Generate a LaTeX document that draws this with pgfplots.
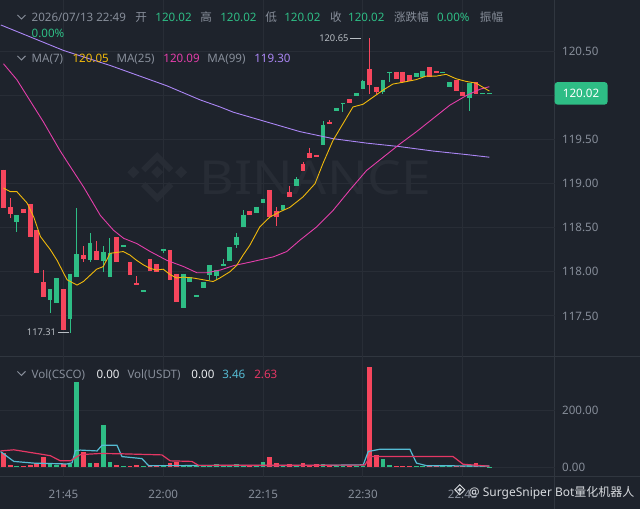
\documentclass[border=0pt]{standalone}
\usepackage{fontspec}
\setmainfont{Noto Sans}
\newfontfamily\cjk{Noto Sans CJK SC}
\usepackage{pgfplots}
\pgfplotsset{compat=1.18}
\usepackage{pgfplotstable}
\definecolor{bgc}{RGB}{30,35,44}
\definecolor{gridc}{RGB}{40,45,54}
\definecolor{sepc}{RGB}{48,54,63}
\definecolor{lbl}{RGB}{135,142,154}
\definecolor{valw}{RGB}{234,236,239}
\definecolor{cGreen}{RGB}{46,189,133}
\definecolor{cRed}{RGB}{246,70,93}
\definecolor{cYel}{RGB}{240,185,11}
\definecolor{cPink}{RGB}{228,62,170}
\definecolor{cPurp}{RGB}{171,134,245}
\definecolor{cCyan}{RGB}{85,188,212}
\definecolor{cVred}{RGB}{228,55,100}
\definecolor{wmk}{RGB}{39,44,53}
\definecolor{mkl}{RGB}{185,190,196}
\definecolor{wmt}{RGB}{215,218,222}

\pgfplotstableread{
x o h l c v
0 119.16 119.16 118.72 118.72 49
1 118.73 118.84 118.61 118.66 8
3 118.71 118.71 118.67 118.67 5
4 118.77 118.77 118.40 118.40 8
5 118.48 118.48 117.99 117.99 14
6 117.88 118.02 117.71 117.71 37
9 117.80 117.80 117.34 117.34 12
12 118.19 118.29 118.11 118.15 52
14 118.24 118.35 118.13 118.13 13
17 118.39 118.39 118.11 118.11 9
19 118.11 118.11 117.96 117.96 5
20 117.87 117.95 117.85 117.85 9
22 118.14 118.14 118.01 118.01 3
23 118.09 118.09 118.00 118.00 3
25 118.25 118.25 117.91 117.91 14
26 117.98 117.98 117.66 117.66 18
37 118.69 118.69 118.64 118.64 4
40 118.93 118.93 118.62 118.62 34
41 118.69 118.74 118.52 118.62 15
43 118.90 118.97 118.85 118.85 12
45 119.22 119.25 119.14 119.14 15
46 119.35 119.41 119.29 119.29 6
47 119.33 119.33 119.30 119.30 10
49 119.70 119.72 119.68 119.68 6
52 119.96 119.96 119.92 119.92 5
55 120.30 120.65 120.02 120.12 353
56 120.10 120.10 120.02 120.04 43
59 120.27 120.27 120.19 120.19 5
60 120.27 120.27 120.15 120.15 4
61 120.23 120.23 120.17 120.17 4
64 120.32 120.32 120.21 120.21 5
65 120.28 120.28 120.26 120.26 3
68 120.18 120.18 120.05 120.05 5
69 120.04 120.04 119.99 119.99 4
71 120.15 120.15 120.02 120.02 14
}\redtab

\pgfplotstableread{
x o h l c v
2 118.56 118.64 118.45 118.64 5
7 117.68 117.80 117.53 117.80 11
8 117.65 117.93 117.65 117.93 8
10 117.47 117.98 117.31 117.98 12
11 117.94 118.72 117.94 118.20 302
13 118.13 118.44 118.11 118.33 13
15 118.12 118.29 118.00 118.23 149
16 117.94 118.38 117.94 118.21 18
18 118.28 118.30 118.28 118.30 5
21 117.77 117.79 117.77 117.79 3
24 118.24 118.26 118.21 118.26 3
27 117.59 117.98 117.59 117.98 5
28 117.89 117.94 117.89 117.94 4
29 117.72 117.74 117.72 117.74 3
30 117.82 117.88 117.82 117.88 4
31 117.96 118.08 117.91 118.08 6
32 117.95 118.02 117.91 118.02 12
33 118.07 118.14 118.07 118.09 4
34 118.12 118.28 118.12 118.28 5
35 118.30 118.44 118.27 118.40 12
36 118.51 118.70 118.51 118.65 6
38 118.67 118.74 118.67 118.74 4
39 118.78 118.83 118.78 118.83 18
42 118.70 118.76 118.70 118.76 6
44 118.97 119.07 118.97 119.05 8
48 119.44 119.71 119.44 119.67 10
50 119.82 119.86 119.82 119.86 5
51 119.91 119.92 119.81 119.92 4
53 120.00 120.03 120.00 120.03 4
54 120.07 120.18 120.07 120.16 5
57 120.04 120.18 120.02 120.18 29
58 120.25 120.27 120.15 120.27 8
62 120.21 120.25 120.21 120.25 3
63 120.21 120.28 120.21 120.28 4
66 120.25 120.27 120.25 120.27 3
67 120.10 120.15 120.10 120.15 4
70 119.97 120.14 119.82 120.14 8
72 120.02 120.03 120.02 120.03 3
73 120.015 120.025 120.015 120.025 2
}\greentab

\newcommand{\hf}{\fontsize{11.6}{13}\selectfont}
\pgfplotsset{candle/.style={mark=none, draw=none, forget plot,
  error bars/.cd, y dir=minus, y explicit, error mark=none}}

\begin{document}
\begin{tikzpicture}[x=1pt,y=1pt]
\fill[bgc] (0,0) rectangle (640,509);
% watermark logo + text
\begin{scope}[wmk]
\fill (133,331) -- (139,337) -- (133,343) -- (127,337) -- cycle;
\fill (181,331) -- (187,337) -- (181,343) -- (175,337) -- cycle;
\fill (157,331) -- (163,337) -- (157,343) -- (151,337) -- cycle;
\draw[line width=6pt] (143,339) -- (157,353) -- (171,339);
\draw[line width=6pt] (143,325) -- (157,311) -- (171,325);
\end{scope}
\node[text=wmk, font=\bfseries\fontsize{47}{50}\selectfont, anchor=west, inner sep=0, xscale=1.14] at (199,331) {BINANCE};
% separators
\draw[sepc, line width=1pt] (0,152) -- (640,152);
\draw[sepc, line width=1pt] (0,32) -- (640,32);
\draw[sepc, line width=1pt] (555,0) -- (555,509);

% ---------- price panel
\begin{axis}[at={(0pt,152pt)}, anchor=south west, scale only axis,
  width=555pt, height=357pt,
  xmin=-0.45, xmax=82.8, ymin=117.0346, ymax=121.0776,
  axis line style={draw=none}, tick style={draw=none},
  xtick={9,24,39,54,69}, xticklabels={},
  ytick={117.5,118,118.5,119,119.5,120,120.5},
  yticklabels={117.50,118.00,118.50,119.00,119.50,{},120.50},
  yticklabel pos=right,
  yticklabel style={anchor=west, xshift=4pt, text=lbl, font=\hf},
  xmajorgrids, ymajorgrids,
  major grid style={gridc, line width=1pt},
  clip=true]
% wicks
\addplot[candle, error bar style={line width=1pt, draw=cRed}]
  table[x=x, y=h, y error minus expr=\thisrow{h}-\thisrow{l}] {\redtab};
\addplot[candle, error bar style={line width=1pt, draw=cGreen}]
  table[x=x, y=h, y error minus expr=\thisrow{h}-\thisrow{l}] {\greentab};
% bodies
\addplot[candle, error bar style={line width=4.8pt, draw=cRed}]
  table[x=x, y=o, y error minus expr=\thisrow{o}-\thisrow{c}] {\redtab};
\addplot[candle, error bar style={line width=4.8pt, draw=cGreen}]
  table[x=x, y=c, y error minus expr=\thisrow{c}-\thisrow{o}] {\greentab};
% MA99
\addplot[cPurp, line width=0.9pt] coordinates {
(-0.4,120.80) (9.05,120.51) (16.05,120.34) (24.55,120.11) (29.55,119.95) (32.55,119.87)
(34.55,119.81) (39.55,119.70) (44.55,119.59) (49.55,119.51) (54.55,119.46)
(59.55,119.42) (64.55,119.37) (69.55,119.33) (73,119.30)};
% MA25
\addplot[cPink, line width=0.9pt] coordinates {
(0,120.36) (2,120.18) (3.5,120.00) (6,119.70) (8.45,119.38) (9.55,119.25) (12.05,118.96)
(14.55,118.64) (16.55,118.47) (18.05,118.38) (20.05,118.32) (22.05,118.23)
(24.55,118.13) (27.05,118.06) (29.05,117.99) (30.55,117.99) (32.55,118.02)
(34.55,118.07) (37.05,118.11) (40.55,118.17) (42.55,118.23) (44.55,118.36)
(47.05,118.51) (49.55,118.70) (52.05,118.93) (54.55,119.15) (57.05,119.30)
(59.55,119.45) (62.05,119.59) (64.55,119.74) (67.05,119.89) (69.55,120.00)
(71.55,120.07) (73,120.10)};
% MA7
\addplot[cYel, line width=0.9pt] coordinates {
(0,118.95) (1,118.91) (2,118.91) (3.55,118.78) (4.55,118.62) (5.55,118.40)
(7.05,118.25) (8.05,118.13) (9.55,117.91) (11.05,117.85) (12,117.89) (13,117.96)
(14,118.03) (15,118.06) (16,118.21) (17,118.22) (18,118.23) (19,118.19)
(20,118.13) (21,118.08) (22,118.04) (23,118.02) (24,118.03) (25,117.97)
(26,117.93) (27,117.94) (28.5,117.93) (30,117.91) (31.5,117.89) (32.5,117.93)
(34,118.00) (35,118.07) (36,118.19) (37,118.30) (38.5,118.51) (40,118.62)
(41.5,118.68) (43,118.73) (45,118.85) (46.8,119.00) (48,119.23) (49.5,119.49)
(51,119.68) (52.5,119.87) (54,119.90) (55.5,119.98) (57,120.06) (58.5,120.13)
(60,120.15) (62,120.18) (63.5,120.22) (65,120.22) (66.5,120.24) (68,120.19)
(69.5,120.16) (71,120.14) (73,120.05)};
% high / low markers
\draw[mkl, line width=0.8pt] (axis cs:53.78,120.65) -- (axis cs:52.1,120.65)
  node[anchor=east, inner sep=1.5pt, text=mkl, font=\fontsize{9.3}{10}\selectfont]{120.65};
\draw[mkl, line width=0.8pt] (axis cs:9.9,117.31) -- (axis cs:8.25,117.31)
  node[anchor=east, inner sep=2pt, text=mkl, font=\fontsize{9.3}{10}\selectfont]{117.31};
\end{axis}

% ---------- volume panel
\begin{axis}[at={(0pt,32pt)}, anchor=south west, scale only axis,
  width=555pt, height=120pt,
  xmin=-0.45, xmax=82.8, ymin=-34.2, ymax=389,
  axis line style={draw=none}, tick style={draw=none},
  xtick={9,24,39,54,69}, xticklabels={21:45,22:00,22:15,22:30,22:45},
  xticklabel style={anchor=center, yshift=-17.2pt, text=lbl, font=\hf},
  ytick={0,200}, yticklabels={0.00,200.00},
  yticklabel pos=right,
  yticklabel style={anchor=west, xshift=4pt, text=lbl, font=\hf},
  xmajorgrids, ymajorgrids,
  major grid style={gridc, line width=1pt},
  clip=true]
\addplot[ycomb, cRed, line width=4.8pt, mark=none] table[x=x, y=v] {\redtab};
\addplot[ycomb, cGreen, line width=4.8pt, mark=none] table[x=x, y=v] {\greentab};
\addplot[cCyan, line width=1.2pt] coordinates {
(-0.45,55) (1.55,20) (4.55,14) (9.55,11) (10.3,15) (10.8,58) (11.55,60) (14.05,57)
(14.8,77) (17.05,77) (17.8,37) (20.8,30) (21.8,5) (47.55,6) (54.05,8) (54.8,55)
(56.55,63) (61.05,63) (62.05,14) (63.55,5) (73,3.5)};
\addplot[cVred, line width=1.2pt] coordinates {
(-0.45,57) (1.55,61) (6.05,44) (7.05,40) (8.55,22) (10.05,22) (11.55,44)
(14.55,48) (17.55,47) (23.8,43) (25.05,22) (28.3,20) (29.3,6) (54.3,7)
(55.05,37) (67.55,37) (69.05,10) (73,3)};
\end{axis}

% ---------- headers
\begin{scope}[every node/.style={anchor=base west, inner sep=0, font=\hf}]
\draw[lbl, line width=0.9pt] (17,494.5) -- (21,490.5) -- (25,494.5);
\node[text=lbl] at (31,488.3) {2026/07/13 22:49};
\node[text=lbl] at (135,488.3) {\cjk 开};
\node[text=cGreen] at (155,488.3) {120.02};
\node[text=lbl] at (200,488.3) {\cjk 高};
\node[text=cGreen] at (220,488.3) {120.02};
\node[text=lbl] at (265,488.3) {\cjk 低};
\node[text=cGreen] at (284,488.3) {120.02};
\node[text=lbl] at (330,488.3) {\cjk 收};
\node[text=cGreen] at (348,488.3) {120.02};
\node[text=lbl] at (394,488.3) {\cjk 涨跌幅};
\node[text=cGreen] at (437,488.3) {0.00\%};
\node[text=lbl] at (480,488.3) {\cjk 振幅};
\node[text=cGreen] at (31,472.3) {0.00\%};
\draw[lbl, line width=0.9pt] (17,453.5) -- (21,449.5) -- (25,453.5);
\node[text=lbl] at (31,446.7) {MA(7)};
\node[text=cYel] at (72,446.7) {120.05};
\node[text=lbl] at (116,446.7) {MA(25)};
\node[text=cPink] at (163,446.7) {120.09};
\node[text=lbl] at (207,446.7) {MA(99)};
\node[text=cPurp] at (254,446.7) {119.30};
\draw[lbl, line width=0.9pt] (17,137.5) -- (21,133.5) -- (25,137.5);
\node[text=lbl] at (31,130.7) {Vol(CSCO)};
\node[text=valw] at (96,130.7) {0.00};
\node[text=lbl] at (127,130.7) {Vol(USDT)};
\node[text=valw] at (191,130.7) {0.00};
\node[text=cCyan] at (222,130.7) {3.46};
\node[text=cVred] at (254,130.7) {2.63};
\end{scope}
% price badge
\node[fill=cGreen, rounded corners=3pt, text=white, minimum width=53pt, minimum height=22.6pt,
  inner sep=0, font=\hf] at (581.5,416) {120.02};
% bottom-right watermark
\begin{scope}[wmt, line width=1pt]
\draw (460,24) -- (465,19) -- (460,14) -- (455,19) -- cycle;
\fill (460,21) -- (462,19) -- (460,17) -- (458,19) -- cycle;
\end{scope}
\node[anchor=base west, inner sep=0, text=wmt, font=\fontsize{12}{13}\selectfont] at (469,12.5) {@ SurgeSniper Bot{\cjk 量化机器人}};
\end{tikzpicture}
\end{document}
